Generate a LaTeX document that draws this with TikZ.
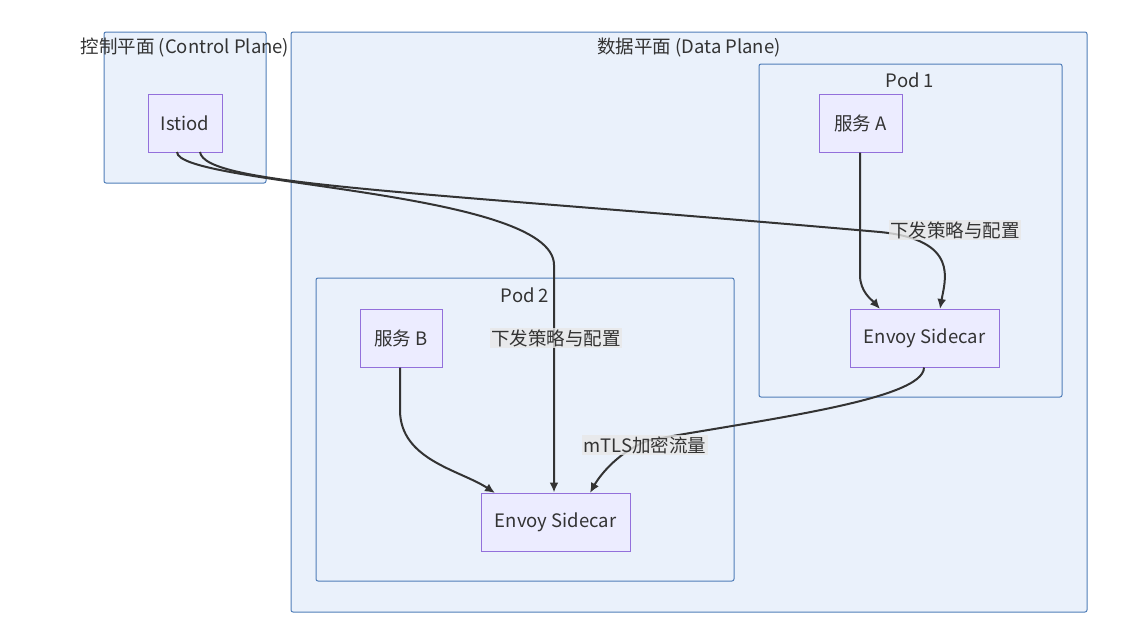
\documentclass[tikz,border=0pt]{standalone}
\usepackage{fontspec}
\setmainfont{Noto Sans CJK SC}
\usetikzlibrary{arrows.meta}
\definecolor{grpfill}{HTML}{EAF1FB}
\definecolor{grpline}{HTML}{4F7DB8}
\definecolor{ndfill}{HTML}{ECECFF}
\definecolor{ndline}{HTML}{9370DB}
\definecolor{edge}{HTML}{333333}
\begin{document}
\begin{tikzpicture}[x=1pt,y=-1pt,
  grp/.style={draw=grpline,fill=grpfill,rounded corners=2pt,line width=1pt},
  nd/.style={draw=ndline,fill=ndfill,line width=1pt},
  txt/.style={font=\fontsize{18.5}{21}\selectfont,text=edge},
  e/.style={draw=edge,line width=2pt,-{Latex[length=10pt,width=9pt]}},
  lbl/.style={txt,fill=gray!18,fill opacity=0.8,text opacity=1,inner sep=1.5pt}]
\useasboundingbox (0,0) rectangle (1122,635);
\draw[grp] (104,32) rectangle (266,183);
\draw[grp] (291,32) rectangle (1087,612);
\draw[grp] (759,64) rectangle (1062,397);
\draw[grp] (316,278) rectangle (734,581);
\node[txt] (tc) at (185,48) {控制平面 (Control Plane)};
\node[txt] (td) at (689,48) {数据平面 (Data Plane)};
\node[txt] (t1) at (910,80) {Pod 1};
\node[txt] (t2) at (525,295) {Pod 2};
\node[nd,txt,minimum width=74pt,minimum height=58pt] (istiod) at (185,123) {Istiod};
\node[nd,txt,minimum width=83pt,minimum height=58pt] (sa) at (860.5,123) {服务 A};
\node[nd,txt,minimum width=149pt,minimum height=58pt] (ea) at (924.5,338) {Envoy Sidecar};
\node[nd,txt,minimum width=82pt,minimum height=58pt] (sb) at (401,338) {服务 B};
\node[nd,txt,minimum width=149pt,minimum height=58pt] (eb) at (555.5,522) {Envoy Sidecar};
\coordinate (i1) at (177,152);
\coordinate (i2) at (200,152);
\draw[e] (i1) .. controls (177,185) and (554,190) .. (554,265) -- (eb.north -| 554,0);
\draw[e] (i2) .. controls (205,185) and (400,190) .. (880,232) .. controls (960,240) and (945,280) .. (940,309);
\draw[e] (sa.south -| 860,0) -- (860,275) .. controls (860,292) and (872,300) .. (880,309);
\draw[e] (sb.south -| 400,0) -- (400,410) .. controls (400,460) and (460,470) .. (495,493);
\draw[e] (ea.south -| 924,0) .. controls (924,400) and (760,420) .. (650,440) .. controls (620,450) and (600,475) .. (590,493);
\node[lbl] (l1) at (556,338) {下发策略与配置};
\node[lbl] (l2) at (955,230) {下发策略与配置};
\node[lbl] (l3) at (645,445) {mTLS加密流量};
\end{tikzpicture}
\end{document}
